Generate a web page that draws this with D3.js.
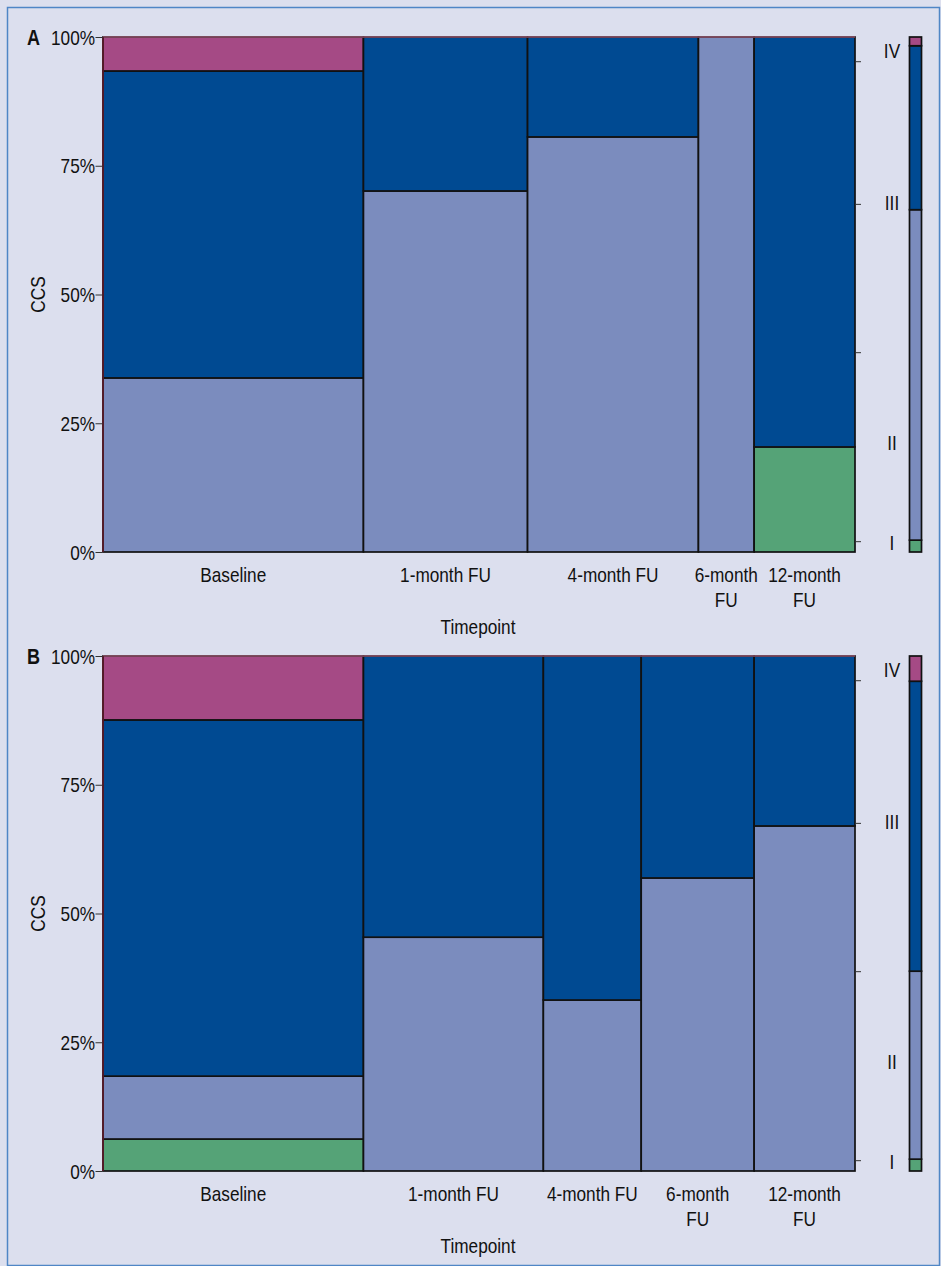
<!DOCTYPE html>
<html>
<head>
<meta charset="utf-8">
<script src="https://cdn.jsdelivr.net/npm/d3@7/dist/d3.min.js"></script>
<style>
html,body{margin:0;padding:0;background:#dcdfee;}
svg{display:block;}
text{font-family:"Liberation Sans",Arial,sans-serif;fill:#111;}
</style>
</head>
<body>
<svg id="chart" width="941" height="1266"></svg>
<script>
// ---- data ----
const categories = ["Baseline","1-month FU","4-month FU","6-month FU","12-month FU"];
const levels = ["I","II","III","IV"];
// x-axis label lines as printed in each panel
const labelLinesA = [["Baseline"],["1-month FU"],["4-month FU"],["6-month","FU"],["12-month","FU"]];
const labelLinesB = [["Baseline"],["1-month FU"],["4-month FU"],["6-month","FU"],["12-month","FU"]];
// column shares (%) = relative number of patients per timepoint
const widthsA = [34.6, 21.8, 22.7, 7.4, 13.4];
const widthsB = [34.6, 23.9, 13.0, 15.0, 13.4];
// CCS class percentages per timepoint, order I, II, III, IV
const baselineA = [0, 33.8, 59.6, 6.6];
const month1A   = [0, 70.1, 29.9, 0];
const month4A   = [0, 80.6, 19.4, 0];
const month6A   = [0, 100, 0, 0];
const month12A  = [20.4, 0, 79.6, 0];
const baselineB = [6.2, 12.2, 69.1, 12.4];
const month1B   = [0, 45.4, 54.6, 0];
const month4B   = [0, 33.2, 66.8, 0];
const month6B   = [0, 56.9, 43.1, 0];
const month12B  = [0, 67.0, 33.0, 0];
// marginal bars on the right (I, II, III, IV)
const marginA = [2.3, 64.1, 31.8, 1.7];
const marginB = [2.3, 36.5, 56.3, 4.9];
// y ticks
const yTicks = [0, 0.25, 0.5, 0.75, 1];
const yTickLabels = ["0%","25%","50%","75%","100%"];
// right-side ticks and class labels (fraction of height)
const rightTicks = [0.021, 0.388, 0.676, 0.953];
const rightLabelPos = [0.019, 0.212, 0.678, 0.973];

const colors = {"I":"#55a377","II":"#7b8cbe","III":"#004a92","IV":"#a54a85"};
const NARROW = 0.82, FS = 21;

const svg = d3.select("#chart");
svg.append("rect").attr("x",7.5).attr("y",7.5).attr("width",932).attr("height",1258)
  .attr("fill","#dcdfee").attr("stroke","#4f86c6").attr("stroke-width",1.5);

// condensed text helper
function ntext(parent, x, y, lines, anchor, opts={}){
  const g = parent.append("g").attr("transform",`translate(${x},${y}) ${opts.rotate?`rotate(${opts.rotate})`:""} scale(${NARROW},1)`);
  const t = g.append("text").attr("text-anchor",anchor).style("font-size",(opts.size||FS)+"px")
    .style("font-weight",opts.weight||"normal");
  lines.forEach((ln,k)=>{ t.append("tspan").attr("x",0).attr("dy",k===0?(opts.dy||0):25).text(ln); });
  return g;
}

function panel(opts){
  const {letter, top, bottom, widths, cols, margin, labelLines} = opts;
  const x = d3.scaleLinear().domain([0,1]).range([103,855]);
  const y = d3.scaleLinear().domain([0,1]).range([bottom, top]);
  const g = svg.append("g");
  const total = d3.sum(widths);
  let cum = 0;
  const colData = widths.map((w,i)=>{
    const x0 = cum/total; cum += w; const x1 = cum/total;
    const vals = cols[i]; const s = d3.sum(vals);
    let c = 0;
    const segs = vals.map((v,j)=>{ const y0=c/s; c+=v; return {lvl:levels[j], y0, y1:c/s}; }).filter(d=>d.y1-d.y0>0);
    return {cat:categories[i], x0, x1, segs, lines:labelLines[i]};
  });
  colData.forEach(cd=>{
    g.selectAll(null).data(cd.segs).enter().append("rect")
      .attr("x", x(cd.x0)).attr("width", x(cd.x1)-x(cd.x0))
      .attr("y", d=>y(d.y1)).attr("height", d=>y(d.y0)-y(d.y1))
      .attr("fill", d=>colors[d.lvl]).attr("stroke","#111").attr("stroke-width",1.7);
  });
  // top/left edge tint
  g.append("line").attr("x1",x(0)).attr("x2",x(1)).attr("y1",y(1)).attr("y2",y(1))
    .attr("stroke","#c86a8c").attr("stroke-width",1.2);
  g.append("line").attr("x1",x(0)).attr("x2",x(0)).attr("y1",y(1)).attr("y2",y(0))
    .attr("stroke","#5a1a2a").attr("stroke-width",1.7);
  // left axis (ticks via d3 axis, labels condensed)
  const ya = d3.axisLeft(y).tickValues(yTicks).tickFormat("").tickSize(7);
  const ag = g.append("g").attr("transform",`translate(${x(0)-0.5},0)`).call(ya);
  ag.select(".domain").remove();
  ag.selectAll("line").attr("stroke","#333").attr("stroke-width",1);
  yTicks.forEach((v,i)=>ntext(g, 95, y(v), [yTickLabels[i]], "end", {dy:"0.36em"}));
  // right ticks
  const ra = d3.axisRight(y).tickValues(rightTicks).tickFormat("").tickSize(6);
  const rg = g.append("g").attr("transform",`translate(${x(1)},0)`).call(ra);
  rg.select(".domain").remove();
  rg.selectAll("line").attr("stroke","#333").attr("stroke-width",1);
  // right class labels
  levels.forEach((d,i)=>ntext(g, 892, y(rightLabelPos[i]), [d], "middle", {dy:"0.36em"}));
  // margin bar
  const ms = d3.sum(margin); let mc=0;
  const msegs = margin.map((v,j)=>{const y0=mc/ms; mc+=v; return {lvl:levels[j], y0, y1:mc/ms};}).filter(d=>d.y1-d.y0>0);
  g.selectAll(null).data(msegs).enter().append("rect")
    .attr("x",909.5).attr("width",12)
    .attr("y",d=>y(d.y1)).attr("height",d=>y(d.y0)-y(d.y1))
    .attr("fill",d=>colors[d.lvl]).attr("stroke","#111").attr("stroke-width",1.7);
  // x labels
  colData.forEach(cd=>{
    const cx = x((cd.x0+cd.x1)/2);
    ntext(g, cx, bottom+30, cd.lines, "middle");
  });
  ntext(g, 478, bottom+82, ["Timepoint"], "middle");
  ntext(g, 45, (top+bottom)/2, ["CCS"], "middle", {rotate:-90});
  ntext(g, 27, top+8, [letter], "start", {weight:"bold", size:22});
}

panel({letter:"A", top:37, bottom:552, widths:widthsA,
  cols:[baselineA,month1A,month4A,month6A,month12A], margin:marginA, labelLines:labelLinesA});
panel({letter:"B", top:656, bottom:1171, widths:widthsB,
  cols:[baselineB,month1B,month4B,month6B,month12B], margin:marginB, labelLines:labelLinesB});
</script>
</body>
</html>
